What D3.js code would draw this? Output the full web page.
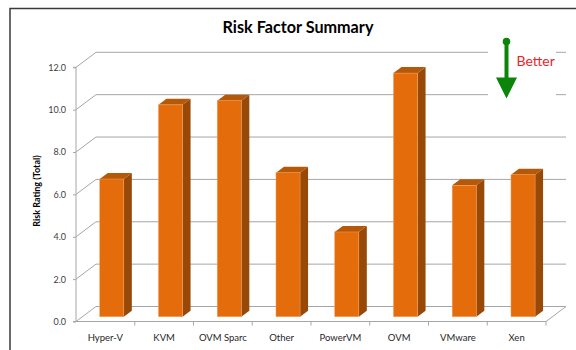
<!DOCTYPE html>
<html>
<head>
<meta charset="utf-8">
<script src="https://cdn.jsdelivr.net/npm/d3@7"></script>
<style>
  html, body { margin: 0; padding: 0; background: #fff; }
  svg { display: block; }
  text { font-family: Lato, "Open Sans", sans-serif; }
</style>
</head>
<body>
<svg id="chart" width="576" height="350"></svg>
<script>
// Risk rating per hypervisor platform
const categories = ["Hyper-V", "KVM", "OVM Sparc", "Other", "PowerVM", "OVM", "VMware", "Xen"];
const riskTotals = [6.5, 10.0, 10.2, 6.8, 4.0, 11.5, 6.2, 6.7];
const yTicks = [0, 2, 4, 6, 8, 10, 12];

const svg = d3.select("#chart");

// 3D layout: front plane of the plot plus a depth vector toward the back wall
const plot = { left: 76, right: 546, top: 67.3, bottom: 321.5 };
const depth = { dx: 20, dy: -15 };
const barDepth = [0.32, 0.72]; // bar front / back as a fraction of the depth

const x = d3.scaleBand().domain(categories)
  .range([plot.left, plot.right])
  .paddingInner(0.59).paddingOuter(0.295);
const xCat = d3.scaleBand().domain(categories).range([plot.left, plot.right]);
const y = d3.scaleLinear().domain([0, 12]).range([plot.bottom, plot.top]);

// chart border
svg.append("rect")
  .attr("x", 10).attr("y", 8.5).attr("width", 620).attr("height", 400)
  .attr("fill", "none").attr("stroke", "#3a3a3a").attr("stroke-width", 1.5);

// title
svg.append("text")
  .attr("x", 298).attr("y", 33)
  .attr("text-anchor", "middle")
  .attr("font-size", 16.2).attr("font-weight", "bold").attr("fill", "#000")
  .text("Risk Factor Summary");

const gridColor = "#a6a6a6";
const backRight = plot.right + depth.dx;

// gridlines: diagonal on the side wall, horizontal along the back wall
const grid = svg.append("g").attr("fill", "none").attr("stroke", gridColor).attr("stroke-width", 1);
yTicks.forEach(t => {
  const yy = y(t);
  grid.append("path")
    .attr("d", `M${plot.left},${yy}L${plot.left + depth.dx},${yy + depth.dy}L${backRight},${yy + depth.dy}`);
});

// floor outline: front edge and right edge
grid.append("path")
  .attr("d", `M${plot.left},${y(0)}L${plot.right},${y(0)}L${backRight},${y(0) + depth.dy}`);

// "Better" indicator
const ann = svg.append("g");
ann.append("rect").attr("x", 488).attr("y", 34).attr("width", 68).attr("height", 66).attr("fill", "#fff");
ann.append("line")
  .attr("x1", 506.5).attr("y1", 42).attr("x2", 506.5).attr("y2", 79)
  .attr("stroke", "#0a850a").attr("stroke-width", 4);
ann.append("circle").attr("cx", 506.5).attr("cy", 41.5).attr("r", 3.8).attr("fill", "#0a850a");
ann.append("path").attr("d", "M496,77.5L517,77.5L506.5,98.5Z").attr("fill", "#0a850a");
ann.append("text")
  .attr("x", 516.5).attr("y", 66)
  .attr("font-family", "'Liberation Sans', Arial, sans-serif")
  .attr("font-size", 14).attr("fill", "#e3262b")
  .text("Better");

// y axis
const yAxis = svg.append("g")
  .attr("transform", `translate(${plot.left},0)`)
  .call(d3.axisLeft(y).tickValues(yTicks).tickFormat(d3.format(".1f")).tickSize(3).tickPadding(7));
yAxis.select(".domain").attr("stroke", gridColor).attr("d", `M-3,${y(12)}H0V${y(0)}H-3`);
yAxis.selectAll(".tick line").attr("stroke", gridColor);
yAxis.selectAll(".tick text").attr("font-size", 9).attr("fill", "#404040")
  .attr("font-family", "Lato, sans-serif");

svg.append("text")
  .attr("transform", `translate(39.5,191) rotate(-90)`)
  .attr("text-anchor", "middle")
  .attr("font-size", 9).attr("font-weight", "bold").attr("fill", "#000")
  .text("Risk Rating (Total)");

// x axis: labels centred in each category, ticks on category boundaries
const xAxis = svg.append("g")
  .attr("transform", `translate(0,${plot.bottom})`)
  .call(d3.axisBottom(xCat).tickSize(0).tickPadding(13));
xAxis.select(".domain").remove();
xAxis.selectAll(".tick text").attr("font-size", 9.5).attr("fill", "#262626")
  .attr("font-family", "Lato, sans-serif");
svg.append("g").selectAll("line")
  .data(categories)
  .join("line")
  .attr("x1", d => xCat(d) + xCat.step())
  .attr("x2", d => xCat(d) + xCat.step())
  .attr("y1", plot.bottom).attr("y2", plot.bottom + 4)
  .attr("stroke", gridColor);

// 3D columns
const frontColor = "#e46c0a", sideColor = "#984807", topColor = "#b55808";
const [d0, d1] = barDepth;
const bars = svg.append("g").selectAll("g").data(categories).join("g");
bars.each(function (c, i) {
  const g = d3.select(this);
  const v = riskTotals[i];
  const bx = x(c) + depth.dx * d0;
  const bw = x.bandwidth();
  const yTop = y(v) + depth.dy * d0;
  const yBot = y(0) + depth.dy * d0;
  const ox = depth.dx * (d1 - d0), oy = depth.dy * (d1 - d0);
  g.append("path")
    .attr("d", `M${bx + bw},${yTop}L${bx + bw + ox},${yTop + oy}L${bx + bw + ox},${yBot + oy}L${bx + bw},${yBot}Z`)
    .attr("fill", sideColor);
  g.append("path")
    .attr("d", `M${bx},${yTop}L${bx + bw},${yTop}L${bx + bw + ox},${yTop + oy}L${bx + ox},${yTop + oy}Z`)
    .attr("fill", topColor);
  g.append("rect")
    .attr("x", bx).attr("y", yTop).attr("width", bw).attr("height", yBot - yTop)
    .attr("fill", frontColor).attr("stroke", "#f0a060").attr("stroke-width", 0.5);
});
</script>
</body>
</html>
